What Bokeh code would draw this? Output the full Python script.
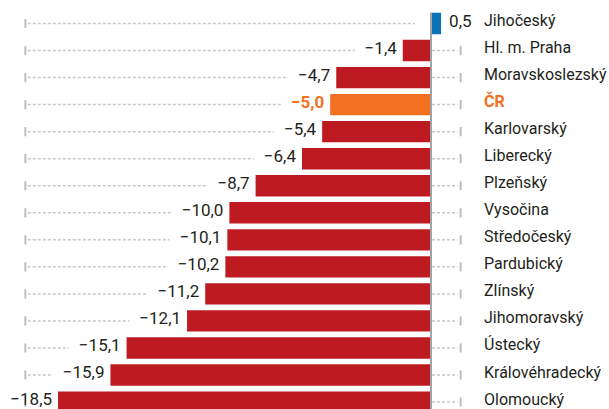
from bokeh.plotting import figure
from bokeh.models import Range1d, ColumnDataSource
from bokeh.core.properties import value
from bokeh.embed import file_html
from bokeh.resources import INLINE

regions = ["Jihočeský", "Hl. m. Praha", "Moravskoslezský", "ČR", "Karlovarský",
           "Liberecký", "Plzeňský", "Vysočina", "Středočeský", "Pardubický",
           "Zlínský", "Jihomoravský", "Ústecký", "Královéhradecký", "Olomoucký"]
values = [0.5, -1.4, -4.7, -5.0, -5.4, -6.4, -8.7, -10.0, -10.1, -10.2,
          -11.2, -12.1, -15.1, -15.9, -18.5]

RED = "#bd1b21"
ORANGE = "#f37021"
BLUE = "#0b71b9"
TEXT = "#231f20"
FONT = "Roboto"

W, H = 609, 409
PX = 20.16          # pixels per unit
ZERO_PX = 430.5     # zero line position
ROW0, PITCH = 23.0, 27.04
x_start = -ZERO_PX / PX
x_end = (W - ZERO_PX) / PX
y_top = -ROW0 / PITCH
y_bot = (H - ROW0) / PITCH

n = len(regions)
idx = list(range(n))
colors = [ORANGE if r == "ČR" else (BLUE if v > 0 else RED) for r, v in zip(regions, values)]
lab_col = [ORANGE if r == "ČR" else TEXT for r in regions]
lab_style = ["bold" if r == "ČR" else "normal" for r in regions]
vlabels = [f"{v:.1f}".replace(".", ",").replace("-", "\u2212") for v in values]

p = figure(width=W, height=H, output_backend="svg", toolbar_location=None,
           x_range=Range1d(x_start, x_end), y_range=Range1d(y_bot, y_top),
           min_border=0)
p.axis.visible = False
p.grid.visible = False
p.outline_line_color = None
p.background_fill_color = "white"

# left dotted lines
LX0 = -20.0
left_end = [min(v, 0) - 0.8 for v in values]
p.segment(x0=[LX0] * n, y0=idx, x1=left_end, y1=idx, line_color="#c8c8c8",
          line_width=1.5, line_dash="3 2")
p.segment(x0=[-20.12] * n, y0=[i - 0.17 for i in idx], x1=[-20.12] * n,
          y1=[i + 0.17 for i in idx], line_color="#bdbdbd", line_width=2)

# right dotted lines for negative rows
neg = [i for i, v in zip(idx, values) if v < 0]
p.segment(x0=[0.05] * len(neg), y0=neg, x1=[1.32] * len(neg), y1=neg,
          line_color="#c8c8c8", line_width=1.5, line_dash="3 2")
p.segment(x0=[1.47] * len(neg), y0=[i - 0.17 for i in neg], x1=[1.47] * len(neg),
          y1=[i + 0.17 for i in neg], line_color="#bdbdbd", line_width=2)

src = ColumnDataSource(dict(y=idx, v=values, c=colors, name=regions, lab=vlabels,
                            lc=lab_col, ls=lab_style, zero=[0] * n))
p.hbar(y="y", left="zero", right="v", height=0.79, fill_color="c", line_color=None,
       source=src)

# zero line
p.segment(x0=[0], y0=[-0.4], x1=[0], y1=[y_bot], line_color="#a3a3a3", line_width=2)

# value labels
negsrc = ColumnDataSource(dict(y=[i for i in neg], v=[values[i] for i in neg],
                               lab=[vlabels[i] for i in neg], lc=[lab_col[i] for i in neg],
                               ls=[lab_style[i] for i in neg]))
p.text(x="v", y="y", text="lab", source=negsrc, x_offset=-6, y_offset=-3,
       text_align="right", text_baseline="middle", text_font=value(FONT),
       text_font_size="17px", text_color="lc", text_font_style="ls",
       background_fill_color="white", padding=(10, 0, 0, 0))
pos = [i for i, v in zip(idx, values) if v > 0]
p.text(x=[values[i] for i in pos], y=pos, text=[vlabels[i] for i in pos], x_offset=8,
       y_offset=-3, text_align="left", text_baseline="middle", text_font=value(FONT),
       text_font_size="17px", text_color=TEXT)

# category names
p.text(x="zero", y="y", text="name", source=src, x_offset=53, y_offset=-3,
       text_align="left", text_baseline="middle", text_font=value(FONT),
       text_font_size="16px", text_color="lc", text_font_style="ls")

open("out.html", "w").write(file_html(p, INLINE))
